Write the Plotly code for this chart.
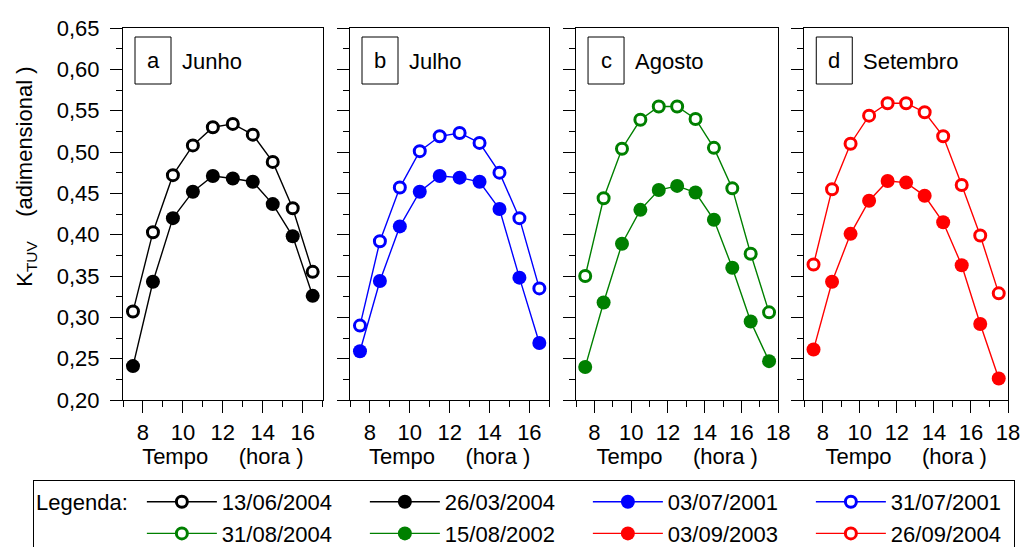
import plotly.graph_objects as go

# ---------------- data ----------------
hours_ab = [7.5, 8.5, 9.5, 10.5, 11.5, 12.5, 13.5, 14.5, 15.5, 16.5]
hours_cd = [7.5, 8.5, 9.5, 10.5, 11.5, 12.5, 13.5, 14.5, 15.5, 16.5, 17.5]

k_13_06_2004 = [0.307, 0.403, 0.472, 0.508, 0.530, 0.534, 0.521, 0.488, 0.432, 0.355]
k_26_03_2004 = [0.241, 0.343, 0.420, 0.452, 0.471, 0.468, 0.464, 0.437, 0.398, 0.326]
k_03_07_2001 = [0.259, 0.344, 0.410, 0.452, 0.471, 0.469, 0.464, 0.431, 0.348, 0.269]
k_31_07_2001 = [0.290, 0.392, 0.457, 0.501, 0.519, 0.523, 0.511, 0.475, 0.420, 0.335]
k_31_08_2004 = [0.350, 0.444, 0.504, 0.539, 0.555, 0.555, 0.540, 0.505, 0.456, 0.377, 0.306]
k_15_08_2002 = [0.240, 0.318, 0.389, 0.430, 0.454, 0.459, 0.451, 0.418, 0.360, 0.295, 0.247]
k_03_09_2003 = [0.261, 0.343, 0.401, 0.441, 0.465, 0.463, 0.447, 0.415, 0.363, 0.292, 0.226]
k_26_09_2004 = [0.364, 0.455, 0.510, 0.544, 0.559, 0.559, 0.548, 0.519, 0.460, 0.399, 0.329]

panel_letters = ["a", "b", "c", "d"]
panel_months = ["Junho", "Julho", "Agosto", "Setembro"]
x_ranges = [[7, 17], [7, 17], [7, 18], [7, 18]]
y_range = [0.2, 0.65]

# series: (label, x, y, color, filled, panel)
series = [
    ("13/06/2004", hours_ab, k_13_06_2004, "black", False, 0),
    ("26/03/2004", hours_ab, k_26_03_2004, "black", True, 0),
    ("03/07/2001", hours_ab, k_03_07_2001, "#0000ff", True, 1),
    ("31/07/2001", hours_ab, k_31_07_2001, "#0000ff", False, 1),
    ("31/08/2004", hours_cd, k_31_08_2004, "#008000", False, 2),
    ("15/08/2002", hours_cd, k_15_08_2002, "#008000", True, 2),
    ("03/09/2003", hours_cd, k_03_09_2003, "#ff0000", True, 3),
    ("26/09/2004", hours_cd, k_26_09_2004, "#ff0000", False, 3),
]

FONT = "Liberation Sans, Arial, sans-serif"
FS = 22

domains = [[0.0, 0.2256], [0.2565, 0.4817], [0.5119, 0.7404], [0.7698, 1.0]]

fig = go.Figure()

for i, (name, xs, ys, color, filled, p) in enumerate(series):
    suffix = "" if p == 0 else str(p + 1)
    if filled:
        marker = dict(symbol="circle", size=14, color=color, line=dict(width=0))
    else:
        marker = dict(symbol="circle", size=11, color="white", line=dict(width=3, color=color))
    fig.add_trace(go.Scatter(
        x=xs, y=ys, name=name, mode="lines+markers",
        line=dict(color=color, width=1.4),
        marker=marker,
        xaxis="x" + suffix, yaxis="y" + suffix,
        legendwidth=(118 if i in (3, 7) else 138),
    ))

layout = dict(
    width=1023, height=547,
    margin=dict(l=123, r=15, t=28, b=147, autoexpand=False),
    paper_bgcolor="white", plot_bgcolor="white",
    font=dict(family=FONT, size=FS, color="black"),
    separators=",.",
    showlegend=True,
    legend=dict(
        orientation="h",
        x=-0.1017, y=-0.2151, xanchor="left", yanchor="top",
        bordercolor="black", borderwidth=1,
        itemwidth=70, entrywidth=138, entrywidthmode="pixels",
        title=dict(text="Legenda:\u00a0", side="left", font=dict(size=FS)),
        font=dict(size=FS, family=FONT),
        bgcolor="white",
    ),
)

shapes = []
annotations = []
for p in range(4):
    suffix = "" if p == 0 else str(p + 1)
    layout["xaxis" + suffix] = dict(
        domain=domains[p], range=x_ranges[p], anchor="y" + suffix,
        dtick=2, tick0=8, ticks="outside", ticklen=12, tickwidth=1, tickcolor="black",
        minor=dict(dtick=1, tick0=7, ticks="outside", ticklen=6, tickwidth=1, tickcolor="black"),
        showline=True, linecolor="black", linewidth=1.2, mirror=True,
        showgrid=False, zeroline=False,
        tickfont=dict(size=FS),
        title=dict(text="Tempo\u00a0\u00a0\u00a0\u00a0\u00a0(hora )", font=dict(size=FS), standoff=0),
    )
    layout["yaxis" + suffix] = dict(
        domain=[0, 1], range=y_range, anchor="x" + suffix,
        dtick=0.05, tick0=0.2, tickformat=".2f",
        ticks="outside", ticklen=12, tickwidth=1, tickcolor="black",
        minor=dict(dtick=0.025, tick0=0.2, ticks="outside", ticklen=6, tickwidth=1, tickcolor="black"),
        showline=True, linecolor="black", linewidth=1.2, mirror=True,
        showgrid=False, zeroline=False,
        showticklabels=(p == 0),
        tickfont=dict(size=FS),
        ticklabelstandoff=6,
    )
    shapes.append(dict(
        type="rect", xref="x" + suffix + " domain", yref="y" + suffix + " domain",
        xsizemode="pixel", ysizemode="pixel", xanchor=0, yanchor=1,
        x0=12, x1=48, y0=-9, y1=-56,
        line=dict(color="black", width=1), fillcolor="rgba(0,0,0,0)",
    ))
    annotations.append(dict(
        text=panel_letters[p], xref="x" + suffix + " domain", yref="y" + suffix + " domain",
        x=0, y=1, xshift=30, yshift=-32, xanchor="center", yanchor="middle",
        showarrow=False, font=dict(size=FS),
    ))
    annotations.append(dict(
        text=panel_months[p], xref="x" + suffix + " domain", yref="y" + suffix + " domain",
        x=0, y=1, xshift=57, yshift=-33, xanchor="left", yanchor="middle",
        showarrow=False, font=dict(size=FS),
    ))

annotations.append(dict(
    text="K<sub>TUV</sub>\u00a0\u00a0\u00a0\u00a0(adimensional )",
    xref="paper", yref="paper", x=-0.1096, y=0.6, xanchor="center", yanchor="middle",
    textangle=-90, showarrow=False, font=dict(size=FS),
))

layout["shapes"] = shapes
layout["annotations"] = annotations
fig.update_layout(**layout)

fig.write_html(
    "out.html",
    config={"displayModeBar": False},
    post_script="document.body.style.margin='0';document.body.style.overflow='hidden';",
)
